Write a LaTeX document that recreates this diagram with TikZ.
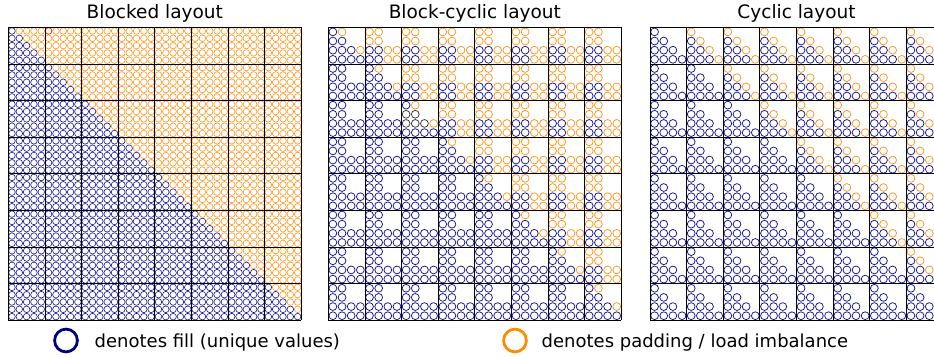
\documentclass[tikz,border=0pt]{standalone}
\usepackage{fontspec}
\setmainfont{DejaVu Sans}
\definecolor{fillblue}{RGB}{0,0,128}
\definecolor{dotblue}{RGB}{20,20,145}
\definecolor{padorange}{RGB}{255,140,0}
\definecolor{dotorange}{RGB}{255,150,30}
\definecolor{oddred}{RGB}{225,45,45}
\definecolor{oddgray}{RGB}{55,55,55}
\tikzset{
  smallring/.style={line width=0.6pt, draw=#1},
  bigring/.style={line width=0.75pt, draw=#1},
  gridline/.style={line width=0.8pt, draw=black},
  paneltitle/.style={font=\fontsize{18.5}{21}\selectfont, anchor=base, inner sep=0pt},
  legendtext/.style={font=\fontsize{18}{21}\selectfont, anchor=base west, inner sep=0pt},
  legendring/.style={line width=2.8pt, draw=#1},
}
\begin{document}
\begin{tikzpicture}[x=1pt,y=-1pt]
\clip (0,0) rectangle (934,356);
\fill[white] (0,0) rectangle (934,356);
\def\cs{36.625}
% ---------------- Blocked layout ----------------
\def\bx{8.3}\def\by{27.3}\def\bs{7.325}
\foreach \Ii in {0,...,39}{
  \foreach \Jj in {0,...,39}{
    \ifnum\Jj>\Ii
      \draw[smallring=dotorange] ({\bx+(\Jj+0.5)*\bs},{\by+(\Ii+0.5)*\bs}) circle[radius=3.3pt];
    \else
      \draw[smallring=dotblue] ({\bx+(\Jj+0.5)*\bs},{\by+(\Ii+0.5)*\bs}) circle[radius=3.3pt];
    \fi
  }
}
\draw[smallring=oddred] ({\bx+5.5*\bs},{\by+0.5*\bs}) circle[radius=3.3pt];
% ---------------- Block-cyclic layout ----------------
\def\kx{328.3}\def\ky{27.3}\def\ks{9.156}
\foreach \Pp in {0,...,7}{
 \foreach \Qq in {0,...,7}{
  \foreach \Rr in {0,...,3}{
   \foreach \Cc in {0,...,3}{
     \pgfmathtruncatemacro\Bi{\Rr/2}
     \pgfmathtruncatemacro\Bj{\Cc/2}
     \pgfmathtruncatemacro\Ri{mod(\Rr,2)}
     \pgfmathtruncatemacro\Ci{mod(\Cc,2)}
     \def\col{dotblue}
     \ifnum\Bi=\Bj
       \ifnum\Pp<\Qq \def\col{dotorange}\fi
       \ifnum\Pp=\Qq \ifnum\Ci>\Ri \def\col{dotorange}\fi\fi
     \fi
     \ifnum\Pp=2 \ifnum\Qq=2 \ifnum\Rr>0 \ifnum\Rr<3 \ifnum\Cc>\Rr\else \def\col{oddgray}\fi\fi\fi\fi\fi
     \ifnum\Bi<\Bj\else
       \draw[bigring=\col] ({\kx+\Qq*\cs+(\Cc+0.5)*\ks},{\ky+\Pp*\cs+(\Rr+0.5)*\ks}) circle[radius=3.9pt];
     \fi
   }
  }
 }
}
% ---------------- Cyclic layout ----------------
\def\cx{650.0}\def\cy{27.3}
\foreach \Pp in {0,...,7}{
 \foreach \Qq in {0,...,7}{
  \foreach \Rr in {0,...,3}{
   \foreach \Cc in {0,...,3}{
     \def\col{dotblue}
     \ifnum\Cc=\Rr \ifnum\Pp<\Qq \def\col{dotorange}\fi\fi
     \ifnum\Cc>\Rr\else
       \draw[bigring=\col] ({\cx+\Qq*\cs+(\Cc+0.5)*\ks},{\cy+\Pp*\cs+(\Rr+0.5)*\ks}) circle[radius=3.9pt];
     \fi
   }
  }
 }
}
% ---------------- grids ----------------
\foreach \X in {8.3,328.3,650.0}{
  \foreach \k in {0,...,8}{
    \draw[gridline] ({\X+\k*\cs},27.3) -- ({\X+\k*\cs},{27.3+8*\cs});
    \draw[gridline] (\X,{27.3+\k*\cs}) -- ({\X+8*\cs},{27.3+\k*\cs});
  }
}
% ---------------- titles ----------------
\node[paneltitle] (t1) at (154.8,18.6) {Blocked layout};
\node[paneltitle] (t2) at (474.8,18.6) {Block-cyclic layout};
\node[paneltitle] (t3) at (796.5,18.6) {Cyclic layout};
% ---------------- legend ----------------
\draw[legendring=fillblue] (66,340.5) circle[radius=11.4pt];
\node[legendtext] (l1) at (94.5,347) {denotes fill (unique values)};
\draw[legendring=padorange] (515,340.5) circle[radius=11.4pt];
\node[legendtext] (l2) at (541.5,347) {denotes padding / load imbalance};
\end{tikzpicture}
\end{document}
